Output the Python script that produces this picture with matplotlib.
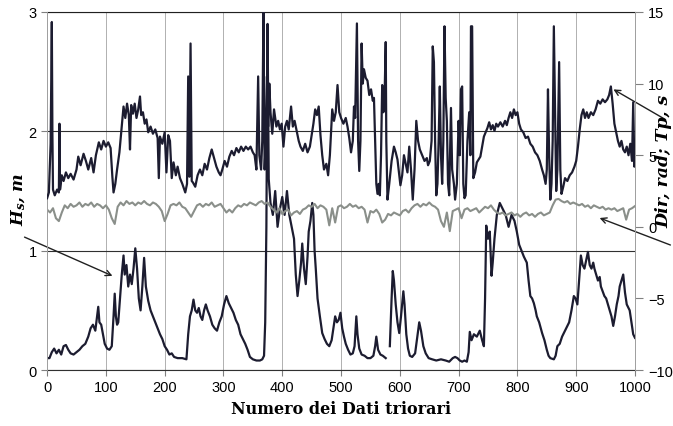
import numpy as np
import matplotlib.pyplot as plt

plt.rcParams['mathtext.fontset'] = 'custom'
plt.rcParams['mathtext.it'] = 'DejaVu Serif:italic:bold'
plt.rcParams['mathtext.rm'] = 'DejaVu Serif:bold'

# Hs (m), left axis
hs_idx = [0, 4, 8, 12, 16, 20, 24, 28, 32, 36, 40, 45, 50, 55, 60, 65, 70, 74, 78, 82, 85, 87, 89, 92, 95, 98,
          102, 106, 110, 113, 115, 117, 119, 121, 124, 127, 130, 132, 135, 138, 141, 144, 147, 150, 153, 156,
          159, 162, 165, 168, 172, 176, 180, 184, 188, 192, 196, 200, 204, 208, 212, 216, 222, 230, 237, 240,
          243, 246, 249, 252, 255, 258, 261, 264, 267, 270, 273, 277, 281, 285, 289, 293, 297, 301, 305, 309,
          313, 317, 321, 325, 329, 333, 337, 341, 345, 350, 356, 362, 366, 369, 371, 373, 375, 377, 380, 384,
          388, 392, 396, 400, 404, 408, 412, 416, 420, 423, 426, 429, 432, 434, 437, 440, 443, 445, 448, 451,
          453, 455, 457, 460, 464, 468, 472, 476, 480, 484, 487, 490, 493, 496, 499, 502, 505, 508, 512, 516,
          520, 523, 526, 528, 531, 535, 540, 545, 550, 555, 558, 560, 563, 567, 571, 576, 579, 583, 586, 588,
          590, 593, 596, 599, 602, 606, 608, 611, 614, 617, 621, 626, 629, 633, 636, 640, 644, 649, 655, 662,
          670, 678, 684, 690, 694, 698, 702, 706, 710, 714, 717, 719, 722, 726, 731, 736, 740, 743, 745, 747,
          750, 753, 756, 758, 761, 765, 770, 775, 780, 785, 790, 795, 799, 803, 807, 811, 816, 819, 822, 825,
          828, 831, 833, 837, 842, 846, 850, 853, 856, 862, 865, 868, 872, 876, 879, 883, 888, 892, 896, 899,
          902, 905, 908, 911, 914, 917, 920, 923, 926, 929, 931, 934, 937, 940, 942, 945, 948, 951, 954, 957,
          960, 963, 966, 969, 972, 974, 977, 980, 983, 986, 989, 991, 994, 997, 1000]
hs_val = [0.1, 0.1, 0.15, 0.18, 0.14, 0.17, 0.13, 0.2, 0.21, 0.17, 0.14, 0.13, 0.15, 0.17, 0.2, 0.22, 0.28, 0.35,
          0.38, 0.33, 0.45, 0.53, 0.4, 0.38, 0.3, 0.22, 0.18, 0.17, 0.2, 0.45, 0.64, 0.45, 0.38, 0.4, 0.6, 0.8,
          0.96, 0.8, 0.88, 0.7, 0.8, 0.72, 0.85, 1.02, 0.85, 0.6, 0.5, 0.7, 0.94, 0.7, 0.58, 0.5, 0.45, 0.4,
          0.35, 0.3, 0.26, 0.2, 0.17, 0.13, 0.14, 0.11, 0.1, 0.1, 0.09, 0.3, 0.45, 0.5, 0.59, 0.5, 0.48, 0.52,
          0.45, 0.42, 0.5, 0.55, 0.5, 0.45, 0.38, 0.35, 0.33, 0.4, 0.45, 0.55, 0.62, 0.56, 0.52, 0.48, 0.42,
          0.38, 0.3, 0.26, 0.22, 0.17, 0.11, 0.09, 0.08, 0.08, 0.09, 0.12, 0.4, 1.2, 2.9, 1.6, 1.4, 1.3, 1.5,
          1.2, 1.35, 1.45, 1.3, 1.5, 1.3, 1.2, 1.1, 0.8, 0.62, 0.75, 0.9, 1.06, 0.85, 0.72, 0.95, 1.16, 1.25,
          1.4, 1.3, 1.0, 0.85, 0.6, 0.45, 0.31, 0.26, 0.22, 0.2, 0.25, 0.35, 0.45, 0.4, 0.42, 0.48, 0.35, 0.28,
          0.22, 0.17, 0.13, 0.14, 0.2, 0.45, 0.3, 0.18, 0.13, 0.12, 0.1, 0.1, 0.12, 0.2, 0.28, 0.17, 0.13, 0.12,
          0.1, np.nan, 0.2, 0.6, 0.83, 0.75, 0.55, 0.4, 0.31, 0.45, 0.66, 0.55, 0.3, 0.18, 0.12, 0.11, 0.14,
          0.25, 0.4, 0.33, 0.2, 0.14, 0.1, 0.09, 0.08, 0.09, 0.08, 0.07, 0.1, 0.11, 0.1, 0.08, 0.07, 0.08, 0.07,
          0.15, 0.32, 0.25, 0.3, 0.28, 0.33, 0.25, 0.2, 0.6, 1.21, 1.1, 1.16, 0.79, 0.9, 1.1, 1.3, 1.4, 1.35,
          1.3, 1.2, 1.3, 1.25, 1.16, 1.05, 1.0, 0.95, 0.9, 0.75, 0.62, 0.6, 0.56, 0.5, 0.45, 0.4, 0.31, 0.25,
          0.17, 0.12, 0.1, 0.09, 0.12, 0.2, 0.22, 0.28, 0.31, 0.35, 0.4, 0.5, 0.62, 0.6, 0.55, 0.75, 0.96, 0.88,
          0.85, 0.92, 0.99, 0.88, 0.85, 0.9, 0.85, 0.8, 0.75, 0.78, 0.7, 0.66, 0.62, 0.6, 0.55, 0.5, 0.45, 0.37,
          0.45, 0.55, 0.62, 0.7, 0.75, 0.8, 0.65, 0.55, 0.52, 0.5, 0.4, 0.3, 0.27]

# Tp (s), right axis
tp_idx = [0, 3, 6, 8, 9, 10, 13, 17, 20, 21, 22, 25, 28, 32, 36, 40, 45, 50, 53, 57, 62, 66, 70, 75, 79, 83, 88,
          92, 96, 100, 104, 108, 111, 113, 116, 119, 123, 127, 130, 133, 136, 139, 141, 143, 146, 149, 152, 155,
          158, 160, 163, 166, 169, 172, 176, 180, 184, 188, 190, 192, 196, 200, 203, 206, 209, 212, 215, 219,
          222, 226, 230, 235, 238, 240, 242, 244, 246, 248, 252, 256, 260, 264, 268, 272, 276, 280, 284, 288,
          292, 295, 298, 302, 306, 310, 314, 318, 322, 326, 330, 334, 338, 342, 346, 350, 353, 356, 359, 361,
          364, 366, 368, 370, 372, 374, 376, 378, 380, 383, 386, 390, 393, 396, 399, 402, 405, 408, 411, 415,
          418, 421, 425, 428, 431, 435, 439, 443, 447, 450, 453, 456, 459, 462, 465, 468, 471, 475, 478, 481,
          485, 488, 491, 494, 497, 500, 504, 508, 511, 514, 517, 520, 522, 524, 527, 529, 531, 533, 535, 537,
          539, 542, 545, 548, 551, 554, 556, 558, 560, 562, 564, 566, 568, 570, 572, 574, 576, 577, 579, 582,
          586, 590, 593, 596, 599, 601, 604, 607, 610, 613, 616, 619, 622, 625, 628, 631, 634, 638, 642, 646,
          648, 651, 654, 656, 658, 660, 662, 664, 666, 668, 670, 672, 674, 676, 678, 680, 682, 684, 687, 689,
          692, 694, 697, 700, 702, 704, 706, 708, 710, 712, 715, 718, 720, 721, 723, 725, 728, 731, 734, 737,
          740, 743, 746, 749, 752, 755, 758, 761, 764, 767, 771, 775, 779, 782, 785, 788, 791, 794, 797, 800,
          803, 806, 810, 814, 818, 822, 826, 830, 834, 838, 842, 845, 848, 850, 852, 854, 856, 858, 860, 862,
          864, 866, 868, 871, 873, 875, 878, 881, 885, 889, 893, 897, 900, 903, 906, 909, 912, 915, 918, 921,
          925, 929, 933, 937, 941, 945, 949, 953, 956, 959, 962, 965, 968, 971, 974, 977, 980, 983, 986, 989,
          992, 995, 997, 999, 1000]
tp_val = [2.0, 2.4, 5.8, 14.3, 6.5, 2.6, 2.2, 2.6, 2.4, 7.2, 2.6, 3.6, 3.2, 3.8, 3.4, 3.7, 3.3, 4.0, 4.9, 4.3,
          5.1, 4.6, 4.0, 4.8, 3.8, 5.0, 5.9, 5.4, 6.0, 5.6, 5.9, 5.5, 3.5, 2.4, 3.0, 4.0, 5.2, 7.0, 8.4, 7.6,
          8.6, 7.8, 5.4, 8.5, 7.9, 8.6, 7.6, 8.2, 9.1, 7.8, 8.0, 7.2, 7.5, 6.6, 7.0, 6.5, 6.8, 6.2, 3.4, 6.3,
          5.8, 6.6, 3.8, 6.4, 6.0, 3.4, 4.5, 3.6, 4.2, 3.4, 3.0, 2.4, 3.0, 10.5, 3.5, 12.8, 3.2, 3.1, 2.8, 3.6,
          4.0, 3.6, 4.4, 4.0, 4.8, 5.4, 4.8, 4.2, 3.8, 3.6, 4.0, 4.6, 4.2, 4.9, 5.3, 5.0, 5.5, 5.2, 5.6, 5.3,
          5.6, 5.4, 5.6, 5.2, 5.0, 4.0, 10.5, 5.0, 4.0, 6.0, 15.0, 4.0, 6.0, 10.5, 7.0, 10.0, 8.0, 6.5, 8.2,
          7.0, 7.4, 6.8, 7.2, 5.6, 7.0, 7.4, 6.8, 8.4, 7.0, 7.4, 6.6, 6.0, 5.6, 5.3, 5.8, 5.2, 5.6, 6.4, 7.2,
          8.2, 7.8, 8.4, 6.4, 5.0, 4.0, 4.4, 3.6, 5.0, 8.2, 7.4, 8.0, 9.9, 8.0, 7.6, 7.2, 7.6, 7.0, 6.2, 5.2,
          6.0, 8.4, 7.6, 14.2, 6.0, 3.9, 6.0, 12.8, 10.0, 11.0, 10.4, 10.2, 9.2, 9.6, 8.8, 9.0, 6.0, 3.0, 2.3,
          3.0, 2.2, 5.0, 9.9, 8.0, 9.0, 12.9, 6.0, 1.9, 3.0, 4.6, 5.6, 5.2, 4.7, 3.6, 2.9, 3.6, 5.0, 4.4, 3.8,
          5.6, 4.0, 1.9, 4.0, 7.4, 6.0, 5.4, 5.0, 4.6, 4.8, 4.3, 4.6, 6.0, 12.6, 11.5, 6.0, 2.2, 3.0, 6.0, 9.8,
          5.0, 3.0, 6.0, 14.0, 9.0, 7.4, 3.0, 2.2, 8.3, 4.0, 3.0, 1.9, 3.0, 7.4, 5.0, 9.6, 9.8, 3.0, 2.0, 2.2,
          6.0, 8.0, 5.0, 14.0, 14.0, 3.4, 3.8, 4.5, 4.7, 4.9, 5.6, 6.3, 6.6, 6.9, 7.3, 6.8, 7.1, 6.7, 7.2, 7.0,
          7.3, 7.0, 7.4, 7.1, 7.6, 8.0, 7.6, 8.2, 7.8, 8.0, 7.2, 6.8, 6.6, 6.2, 6.3, 5.8, 5.6, 5.2, 5.0, 4.6,
          4.0, 3.6, 3.0, 4.0, 9.6, 5.0, 1.9, 3.0, 6.0, 14.0, 8.0, 2.5, 4.0, 11.5, 4.0, 2.3, 2.8, 3.4, 3.2, 3.6,
          3.8, 4.2, 4.6, 5.6, 6.8, 7.8, 8.2, 7.6, 8.0, 7.6, 8.0, 7.8, 8.2, 8.8, 8.6, 8.9, 8.7, 8.9, 9.2, 9.8,
          8.6, 7.2, 6.6, 6.0, 5.6, 6.0, 5.4, 5.2, 5.6, 5.0, 5.8, 4.6, 8.7, 4.2, 5.5]

# Dir (rad), right axis, one reading every 5 records
dir_idx = list(range(0, 1001, 5))
dir_val = [1.2, 1.0, 1.3, 0.6, 0.4, 1.0, 1.5, 1.3, 1.6, 1.4,
           1.5, 1.7, 1.4, 1.6, 1.5, 1.7, 1.4, 1.6, 1.5, 1.3,
           1.5, 1.2, 0.6, 0.2, 1.4, 1.7, 1.5, 1.8, 1.6, 1.7,
           1.5, 1.7, 1.6, 1.8, 1.6, 1.5, 1.7, 1.6, 1.4, 1.1,
           0.4, 0.9, 1.5, 1.6, 1.5, 1.7, 1.4, 1.3, 1.0, 0.7,
           1.1, 1.5, 1.6, 1.4, 1.6, 1.5, 1.7, 1.4, 1.5, 1.6,
           1.3, 1.0, 1.2, 1.0, 1.3, 1.5, 1.4, 1.6, 1.5, 1.7,
           1.6, 1.5, 1.7, 1.8, 1.6, 1.7, 1.4, 1.2, 1.0, 1.3,
           0.9, 1.1, 1.2, 0.8, 1.0, 1.1, 0.9, 1.2, 1.3, 1.5,
           1.4, 1.6, 1.3, 1.5, 1.4, 1.2, 0.1, 1.3, 0.3, 1.4,
           1.5, 1.3, 1.4, 1.6, 1.4, 1.5, 1.3, 1.4, 1.2, 0.3,
           1.1, 1.0, 1.2, 0.9, 0.3, 0.5, 0.9, 0.8, 1.0, 0.9,
           0.8, 1.1, 1.2, 1.0, 1.3, 1.5, 1.6, 1.4, 1.6, 1.5,
           1.7, 1.5, 1.4, 1.2, 0.4, 0.0, 1.0, -0.3, 1.1, 1.2,
           1.3, 0.6, 1.2, 1.3, 1.1, 1.2, 1.3, 1.0, 1.2, 1.4,
           1.3, 1.5, 1.2, 1.0, 0.9, 1.0, 0.8, 0.9, 1.0, 0.8,
           0.9, 0.7, 0.9, 1.0, 0.8, 0.9, 0.7, 0.9, 1.0, 0.8,
           0.9, 1.0, 1.5, 1.9, 1.95, 1.8, 1.7, 1.8, 1.6, 1.7,
           1.6, 1.5, 1.6, 1.4, 1.5, 1.3, 1.5, 1.4, 1.3, 1.4,
           1.2, 1.3, 1.2, 1.3, 1.1, 1.2, 1.3, 0.5, 1.2, 1.3,
           1.45]

fig, ax = plt.subplots(figsize=(6.73, 4.27), dpi=100)
fig.subplots_adjust(left=0.070, right=0.9435, bottom=0.131, top=0.9696)
ax2 = ax.twinx()

line_col = '#1c1c30'
ax.plot(hs_idx, hs_val, color=line_col, lw=1.6, zorder=3)
ax2.plot(tp_idx, tp_val, color=line_col, lw=1.6, zorder=3)
ax2.plot(dir_idx, dir_val, color='#8a8f8a', lw=1.5, zorder=2)

ax.set_xlim(0, 1000)
ax.set_ylim(0, 3)
ax2.set_ylim(-10, 15)
ax.set_xticks(range(0, 1001, 100))
ax.set_yticks([0, 1, 2, 3])
ax2.set_yticks(range(-10, 16, 5))

ax.grid(axis='x', color='#b0b0b0', lw=0.7)
ax.grid(axis='y', color='#303030', lw=0.8)
for a in (ax, ax2):
    for s in ['left', 'right']:
        a.spines[s].set_color('#a0a0a0')
        a.spines[s].set_linewidth(0.7)
ax.spines['top'].set_color('#202020')
ax.spines['bottom'].set_color('#303030')
ax2.spines['top'].set_visible(False)
ax2.spines['bottom'].set_visible(False)

ax.tick_params(axis='both', length=4, color='#808080', labelsize=10.5)
ax2.tick_params(axis='y', length=6, color='#808080', labelsize=10.5)
for lab in ax.get_xticklabels() + ax.get_yticklabels() + ax2.get_yticklabels():
    lab.set_fontfamily('Liberation Sans')

ax.set_xlabel('Numero dei Dati triorari', family='DejaVu Serif', weight='bold', fontsize=11.5)
ax.set_ylabel('$H_s$, $m$', family='DejaVu Serif', weight='bold', style='italic', fontsize=12, va='center')
ax.yaxis.set_label_coords(-0.048, 0.48)
# right label sits at the page edge, as in the scan
ax2.set_ylabel('Dir, rad; Tp, s', family='DejaVu Serif', weight='bold', style='italic', fontsize=12.5,
               rotation=90, va='center')
ax2.yaxis.set_label_coords(1.049, 0.585)

# arrows pointing from the labels to the curves
arrow = dict(arrowstyle='->', color='#202020', lw=1.0)
ax.annotate('', xy=(115, 427 - 278), xycoords='figure pixels', xytext=(22, 427 - 237),
            textcoords='figure pixels', arrowprops=arrow, annotation_clip=False)
ax.annotate('', xy=(611, 427 - 89), xycoords='figure pixels', xytext=(668, 427 - 122),
            textcoords='figure pixels', arrowprops=arrow, annotation_clip=False)
ax.annotate('', xy=(597, 427 - 218), xycoords='figure pixels', xytext=(673, 427 - 247),
            textcoords='figure pixels', arrowprops=arrow, annotation_clip=False)

fig.savefig('out.png', dpi=100)
